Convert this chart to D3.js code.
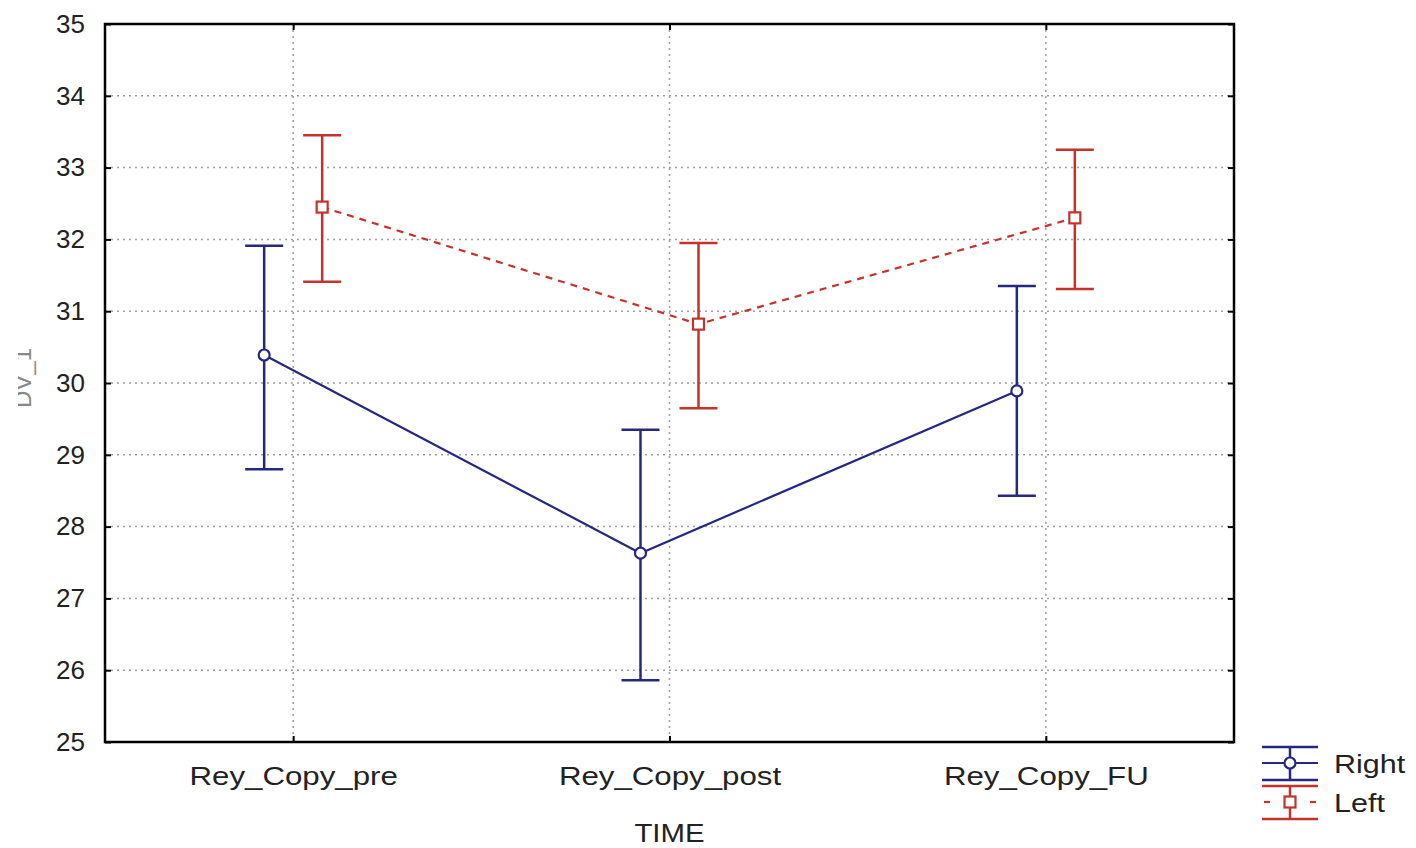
<!DOCTYPE html>
<html>
<head>
<meta charset="utf-8">
<script src="https://cdn.jsdelivr.net/npm/d3@7"></script>
<style>
  body { margin: 0; background: #fff; }
  svg { display: block; font-family: "Liberation Sans", Arial, sans-serif; }
</style>
</head>
<body>
<div id="chart"></div>
<script>
// categories and series (mean, upper, lower)
const categories = ['Rey_Copy_pre', 'Rey_Copy_post', 'Rey_Copy_FU'];
const rightMean = [30.39, 27.63, 29.89];
const rightUpper = [31.91, 29.35, 31.35];
const rightLower = [28.80, 25.86, 28.43];
const leftMean = [32.45, 30.82, 32.30];
const leftUpper = [33.45, 31.95, 33.25];
const leftLower = [31.41, 29.65, 31.31];
const yTicks = [25, 26, 27, 28, 29, 30, 31, 32, 33, 34, 35];

const width = 1416, height = 848;
const plot = { left: 105, top: 24, right: 1234, bottom: 742 };
const font = '"Liberation Sans", Arial, sans-serif';

const svg = d3.select('#chart').append('svg')
  .attr('width', width)
  .attr('height', height);

const x = d3.scalePoint()
  .domain(categories)
  .range([plot.left, plot.right])
  .padding(0.5);

const y = d3.scaleLinear()
  .domain([25, 35])
  .range([plot.bottom, plot.top]);

const blue = '#25287f';
const red = '#c4322c';
const offset = 29;
const capHalf = 19;

// grid
const grid = svg.append('g');
grid.selectAll('.hgrid')
  .data(yTicks.slice(1, -1))
  .enter().append('line')
  .attr('x1', plot.left).attr('x2', plot.right)
  .attr('y1', d => y(d)).attr('y2', d => y(d))
  .attr('stroke', '#a0a0a0')
  .attr('stroke-width', 1.5)
  .attr('stroke-dasharray', '2,4');
grid.selectAll('.vgrid')
  .data(categories)
  .enter().append('line')
  .attr('x1', d => x(d)).attr('x2', d => x(d))
  .attr('y1', plot.top).attr('y2', plot.bottom)
  .attr('stroke', '#a0a0a0')
  .attr('stroke-width', 1.5)
  .attr('stroke-dasharray', '2,4');

// axes (ticks inside)
svg.append('g')
  .attr('transform', `translate(${plot.left},0)`)
  .call(d3.axisLeft(y).tickValues(yTicks).tickSize(-6).tickPadding(20))
  .call(g => g.select('.domain').remove())
  .call(g => g.selectAll('line').attr('stroke', '#000').attr('stroke-width', 2))
  .call(g => g.selectAll('text').attr('font-size', 26).attr('fill', '#222').attr('font-family', font));

svg.append('g')
  .attr('transform', `translate(0,${plot.bottom})`)
  .call(d3.axisBottom(x).tickSize(-6))
  .call(g => g.select('.domain').remove())
  .call(g => g.selectAll('line').attr('stroke', '#000').attr('stroke-width', 2))
  .call(g => g.selectAll('text')
    .attr('y', 43).attr('dy', null)
    .attr('transform', 'scale(1.25,1)')
    .attr('font-size', 25).attr('fill', '#222').attr('font-family', font));

svg.append('g')
  .attr('transform', `translate(0,${plot.top})`)
  .call(d3.axisTop(x).tickSize(-6).tickFormat(''))
  .call(g => g.select('.domain').remove())
  .call(g => g.selectAll('line').attr('stroke', '#000').attr('stroke-width', 2));

svg.append('g')
  .attr('transform', `translate(${plot.right},0)`)
  .call(d3.axisRight(y).tickValues(yTicks).tickSize(-6).tickFormat(''))
  .call(g => g.select('.domain').remove())
  .call(g => g.selectAll('line').attr('stroke', '#000').attr('stroke-width', 2));

// frame
svg.append('rect')
  .attr('x', plot.left).attr('y', plot.top)
  .attr('width', plot.right - plot.left)
  .attr('height', plot.bottom - plot.top)
  .attr('fill', 'none')
  .attr('stroke', '#000')
  .attr('stroke-width', 2.5);

// axis titles
svg.append('text')
  .attr('transform', `translate(${x(categories[1])},842) scale(1.13,1)`)
  .attr('text-anchor', 'middle')
  .attr('font-size', 26)
  .attr('fill', '#222')
  .text('TIME');

// y title is mostly cropped off in the original
svg.append('defs').append('clipPath').attr('id', 'ylabClip')
  .append('rect').attr('x', 18).attr('y', 300).attr('width', 40).attr('height', 200);
svg.append('g')
  .attr('clip-path', 'url(#ylabClip)')
  .append('text')
  .attr('transform', `translate(31,${y(30) - 5}) rotate(-90)`)
  .attr('text-anchor', 'middle')
  .attr('font-size', 24)
  .attr('fill', '#888')
  .text('DV_1');

function drawSeries(mean, upper, lower, color, dx, dash, symbol) {
  const g = svg.append('g');
  const pts = categories.map((c, i) => ({ c, m: mean[i], u: upper[i], l: lower[i] }));
  const cx = d => x(d.c) + dx;

  g.append('path')
    .datum(pts)
    .attr('d', d3.line().x(cx).y(d => y(d.m)))
    .attr('fill', 'none')
    .attr('stroke', color)
    .attr('stroke-width', 2.2)
    .attr('stroke-dasharray', dash);

  g.selectAll('.bar').data(pts).enter().append('line')
    .attr('x1', cx).attr('x2', cx)
    .attr('y1', d => y(d.u)).attr('y2', d => y(d.l))
    .attr('stroke', color).attr('stroke-width', 2.5);
  ['u', 'l'].forEach(k => {
    g.selectAll('.cap' + k).data(pts).enter().append('line')
      .attr('x1', d => cx(d) - capHalf).attr('x2', d => cx(d) + capHalf)
      .attr('y1', d => y(d[k])).attr('y2', d => y(d[k]))
      .attr('stroke', color).attr('stroke-width', 2.5);
  });

  if (symbol === 'circle') {
    g.selectAll('.pt').data(pts).enter().append('circle')
      .attr('cx', cx).attr('cy', d => y(d.m)).attr('r', 5.5)
      .attr('fill', '#fff').attr('stroke', color).attr('stroke-width', 2.2);
  } else {
    g.selectAll('.pt').data(pts).enter().append('rect')
      .attr('x', d => cx(d) - 5.5).attr('y', d => y(d.m) - 5.5)
      .attr('width', 11).attr('height', 11)
      .attr('fill', '#fff').attr('stroke', color).attr('stroke-width', 2.2);
  }
}

drawSeries(rightMean, rightUpper, rightLower, blue, -offset, null, 'circle');
drawSeries(leftMean, leftUpper, leftLower, red, offset, '7,6', 'square');

// legend
const legend = [
  { name: 'Right', color: blue, symbol: 'circle', dash: null, top: 747 },
  { name: 'Left', color: red, symbol: 'square', dash: '6,6', top: 786 }
];
legend.forEach(l => {
  const g = svg.append('g');
  const x0 = 1262, x1 = 1318, xc = 1290;
  const mid = l.top + 16, bot = l.top + 33;
  g.append('line').attr('x1', x0).attr('x2', x1).attr('y1', l.top).attr('y2', l.top)
    .attr('stroke', l.color).attr('stroke-width', 2.5);
  g.append('line').attr('x1', x0).attr('x2', x1).attr('y1', bot).attr('y2', bot)
    .attr('stroke', l.color).attr('stroke-width', 2.5);
  g.append('line').attr('x1', xc).attr('x2', xc).attr('y1', l.top).attr('y2', bot)
    .attr('stroke', l.color).attr('stroke-width', 2.5);
  if (l.dash) {
    g.append('line').attr('x1', x0 + 2).attr('x2', x0 + 8).attr('y1', mid).attr('y2', mid)
      .attr('stroke', l.color).attr('stroke-width', 2.2);
    g.append('line').attr('x1', x1 - 8).attr('x2', x1 - 2).attr('y1', mid).attr('y2', mid)
      .attr('stroke', l.color).attr('stroke-width', 2.2);
  } else {
    g.append('line').attr('x1', x0).attr('x2', x1).attr('y1', mid).attr('y2', mid)
      .attr('stroke', l.color).attr('stroke-width', 2.2);
  }
  if (l.symbol === 'circle') {
    g.append('circle').attr('cx', xc).attr('cy', mid).attr('r', 5.5)
      .attr('fill', '#fff').attr('stroke', l.color).attr('stroke-width', 2.2);
  } else {
    g.append('rect').attr('x', xc - 5.5).attr('y', mid - 5.5).attr('width', 11).attr('height', 11)
      .attr('fill', '#fff').attr('stroke', l.color).attr('stroke-width', 2.2);
  }
  g.append('text')
    .attr('transform', `translate(1334,${l.top + 26}) scale(1.22,1)`)
    .attr('font-size', 25).attr('fill', '#222').text(l.name);
});
</script>
</body>
</html>
